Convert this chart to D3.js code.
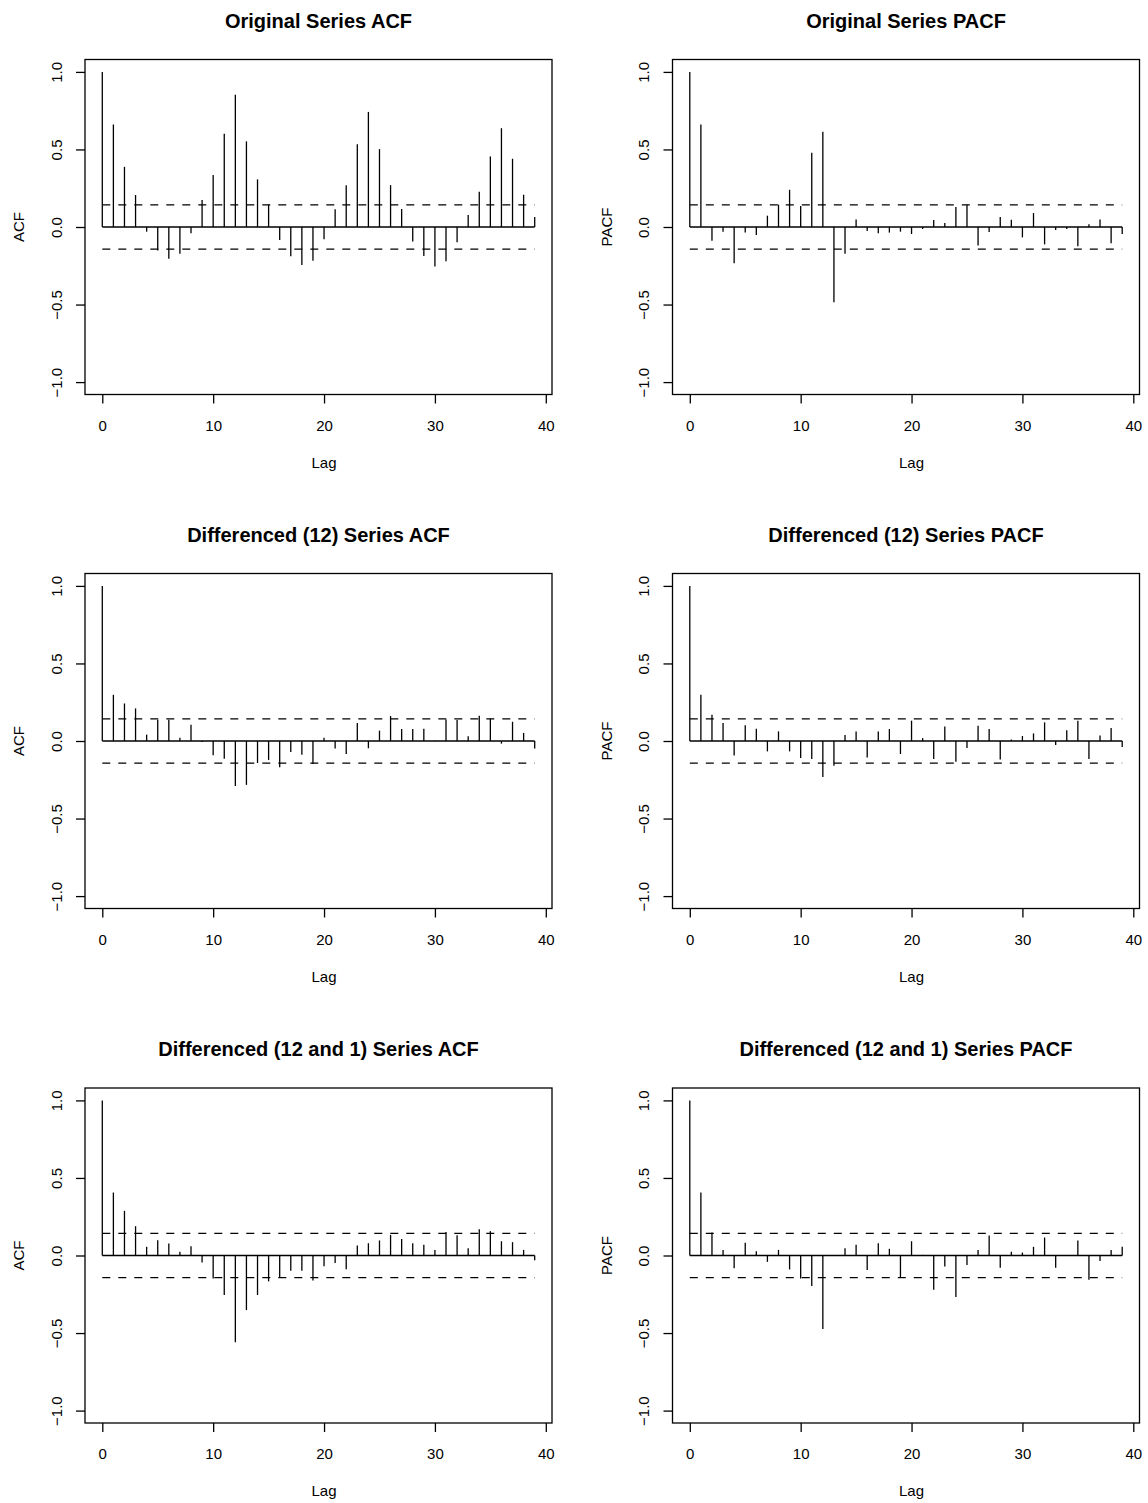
<!DOCTYPE html>
<html>
<head>
<meta charset="utf-8">
<script src="https://cdn.jsdelivr.net/npm/d3@7"></script>
<style>
  body { margin: 0; background: #fff; }
  text { font-family: 'Liberation Sans', Arial, Helvetica, sans-serif; fill: #000; }
</style>
</head>
<body>
<div id="chart"></div>
<script>
const lags = d3.range(0, 40)
const xTicks = [0, 10, 20, 30, 40]
const yTicks = [-1, -0.5, 0, 0.5, 1]
const ciLimit = 0.143

const titles = [
  'Original Series ACF', 'Original Series PACF',
  'Differenced (12) Series ACF', 'Differenced (12) Series PACF',
  'Differenced (12 and 1) Series ACF', 'Differenced (12 and 1) Series PACF'
]
const yLabels = ['ACF', 'PACF', 'ACF', 'PACF', 'ACF', 'PACF']

const origAcf = [1.0, 0.661, 0.388, 0.206, -0.030, -0.152, -0.204, -0.172, -0.041, 0.174,
  0.335, 0.601, 0.852, 0.552, 0.307, 0.144, -0.084, -0.189, -0.245, -0.217,
  -0.079, 0.114, 0.270, 0.534, 0.742, 0.502, 0.270, 0.116, -0.094, -0.187,
  -0.255, -0.221, -0.099, 0.077, 0.227, 0.455, 0.637, 0.440, 0.208, 0.064]
const origPacf = [1.0, 0.661, -0.088, -0.030, -0.234, -0.036, -0.052, 0.073, 0.144, 0.240,
  0.135, 0.479, 0.614, -0.485, -0.172, 0.049, -0.026, -0.041, -0.036, -0.030,
  -0.045, -0.013, 0.045, 0.026, 0.129, 0.144, -0.120, -0.032, 0.064, 0.047,
  -0.067, 0.090, -0.112, -0.019, -0.013, -0.124, 0.017, 0.049, -0.105, -0.045]
const diff12Acf = [1.0, 0.298, 0.242, 0.210, 0.041, 0.137, 0.137, 0.021, 0.105, -0.006,
  -0.092, -0.114, -0.290, -0.283, -0.142, -0.122, -0.170, -0.071, -0.088, -0.148,
  0.021, -0.049, -0.084, 0.116, -0.047, 0.067, 0.161, 0.077, 0.077, 0.079,
  0.002, 0.139, 0.135, 0.030, 0.163, 0.144, -0.017, 0.124, 0.052, -0.049]
const diff12Pacf = [1.0, 0.298, 0.170, 0.116, -0.094, 0.101, 0.079, -0.067, 0.062, -0.067,
  -0.109, -0.116, -0.232, -0.159, 0.039, 0.062, -0.107, 0.062, 0.077, -0.084,
  0.131, 0.019, -0.116, 0.094, -0.133, -0.045, 0.099, 0.077, -0.120, 0.009,
  0.032, 0.049, 0.120, -0.026, 0.069, 0.131, -0.116, 0.036, 0.084, -0.039]
const diff121Acf = [1.0, 0.406, 0.288, 0.189, 0.056, 0.099, 0.077, 0.024, 0.060, -0.045,
  -0.148, -0.255, -0.560, -0.352, -0.255, -0.167, -0.142, -0.099, -0.099, -0.161,
  -0.069, -0.049, -0.088, 0.064, 0.079, 0.097, 0.133, 0.107, 0.079, 0.069,
  0.036, 0.152, 0.131, 0.047, 0.170, 0.157, 0.092, 0.086, 0.036, -0.030]
const diff121Pacf = [1.0, 0.406, 0.148, 0.036, -0.082, 0.082, 0.028, -0.041, 0.036, -0.090,
  -0.148, -0.197, -0.474, 0.002, 0.047, 0.069, -0.094, 0.079, 0.043, -0.142,
  0.092, 0.004, -0.221, -0.071, -0.268, -0.062, 0.036, 0.129, -0.079, 0.024,
  0.019, 0.056, 0.116, -0.079, 0.002, 0.097, -0.157, -0.036, 0.036, 0.056]

const series = [origAcf, origPacf, diff12Acf, diff12Pacf, diff121Acf, diff121Pacf]

const width = 1148
const height = 1503
const colLeft = [85, 672.5]
const rowTop = [59.5, 573.5, 1088]
const boxW = 467
const boxH = 335

const svg = d3
  .select('#chart')
  .append('svg')
  .attr('width', width)
  .attr('height', height)

svg.append('rect').attr('width', width).attr('height', height).attr('fill', '#fff')

const fmt = d3.format('.1f')

series.forEach(function(values, i) {
  const left = colLeft[i % 2]
  const top = rowTop[Math.floor(i / 2)]

  const x = d3.scaleLinear().domain([-1.56, 40.56]).range([0, boxW])
  const y = d3.scaleLinear().domain([-1.08, 1.08]).range([boxH, 0])

  const g = svg.append('g').attr('transform', `translate(${left},${top})`)

  // axes
  const xAxis = d3.axisBottom(x).tickValues(xTicks).tickSize(9).tickPadding(15)
  const gx = g.append('g').attr('transform', `translate(0,${boxH})`).call(xAxis)
  gx.select('.domain').remove()
  gx.selectAll('line').attr('stroke', '#000').attr('stroke-width', 1.3)
  gx.selectAll('text')
    .attr('font-size', 15)
    .attr('dy', null)
    .attr('y', 36)

  const yAxis = d3.axisLeft(y).tickValues(yTicks).tickSize(9).tickFormat(fmt)
  const gy = g.append('g').call(yAxis)
  gy.select('.domain').remove()
  gy.selectAll('line').attr('stroke', '#000').attr('stroke-width', 1.3)
  gy.selectAll('text')
    .attr('font-size', 15)
    .attr('x', null)
    .attr('dy', null)
    .attr('text-anchor', 'middle')
    .attr('transform', 'translate(-23.5,0) rotate(-90)')

  // frame
  g.append('rect')
    .attr('width', boxW)
    .attr('height', boxH)
    .attr('fill', 'none')
    .attr('stroke', '#000')
    .attr('stroke-width', 1.3)

  // confidence limits
  ;[ciLimit, -ciLimit].forEach(function(c) {
    g.append('line')
      .attr('x1', x(0))
      .attr('x2', x(39))
      .attr('y1', y(c))
      .attr('y2', y(c))
      .attr('stroke', '#000')
      .attr('stroke-width', 1.3)
      .attr('stroke-dasharray', '8,8')
  })

  // zero line
  g.append('line')
    .attr('x1', x(0))
    .attr('x2', x(39))
    .attr('y1', y(0))
    .attr('y2', y(0))
    .attr('stroke', '#000')
    .attr('stroke-width', 1.5)

  // spikes
  g.selectAll('.spike')
    .data(values)
    .enter()
    .append('line')
    .attr('class', 'spike')
    .attr('x1', (d, k) => x(lags[k]))
    .attr('x2', (d, k) => x(lags[k]))
    .attr('y1', y(0))
    .attr('y2', d => y(d))
    .attr('stroke', '#000')
    .attr('stroke-width', 1.3)

  // labels
  g.append('text')
    .attr('x', boxW / 2)
    .attr('y', -32)
    .attr('text-anchor', 'middle')
    .attr('font-size', 20)
    .attr('font-weight', 'bold')
    .text(titles[i])

  g.append('text')
    .attr('x', x(20))
    .attr('y', boxH + 73)
    .attr('text-anchor', 'middle')
    .attr('font-size', 15)
    .text('Lag')

  g.append('text')
    .attr('transform', `translate(-61,${y(0)}) rotate(-90)`)
    .attr('text-anchor', 'middle')
    .attr('font-size', 15)
    .text(yLabels[i])
})
</script>
</body>
</html>
